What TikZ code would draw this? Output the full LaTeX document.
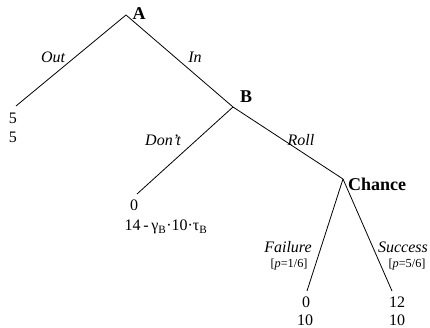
\documentclass[tikz,border=0pt]{standalone}
\usepackage{fontspec}
\setmainfont{Liberation Serif}
\begin{document}
\begin{tikzpicture}[x=1pt,y=-1pt,
  edge/.style={draw=black,line width=0.8pt},
  player/.style={font=\fontsize{18}{20}\selectfont\bfseries,inner sep=0pt},
  act/.style={font=\fontsize{16}{18}\selectfont\itshape,inner sep=0pt},
  prob/.style={font=\fontsize{12.3}{14}\selectfont,inner sep=0pt},
  pay/.style={font=\fontsize{16}{18}\selectfont,inner sep=0pt}]
\useasboundingbox (0,0) rectangle (430,328);
\coordinate (A) at (126,15);
\coordinate (B) at (233,107);
\coordinate (C) at (343,179);
\coordinate (lout) at (16,106);
\coordinate (ldont) at (137,194);
\coordinate (lfail) at (307,291);
\coordinate (lsucc) at (392,291);
\draw[edge] (A) -- (lout);
\draw[edge] (A) -- (B);
\draw[edge] (B) -- (ldont);
\draw[edge] (B) -- (C);
\draw[edge] (C) -- (lfail);
\draw[edge] (C) -- (lsucc);
\node[player] (nA) at (139,14) {A};
\node[player] (nB) at (246,97) {B};
\node[player] (nC) at (377,184) {Chance};
\node[act] (tout) at (53,57) {Out};
\node[act] (tin) at (195,57) {In};
\node[act] (tdont) at (163,140) {Don{\char"27}t};
\node[act] (troll) at (301,140) {Roll};
\node[act] (tfail) at (288,247) {Failure};
\node[prob] (pfail) at (289,265) {[\textit{p}=1/6]};
\node[act] (tsucc) at (403,247) {Success};
\node[prob] (psucc) at (407,265) {[\textit{p}=5/6]};
\node[pay] (o1) at (13,118) {5};
\node[pay] (o2) at (13,137) {5};
\node[pay] (d1) at (134,205) {0};
\node[pay] (d2) at (166,227) {14\,-\,γ\textsubscript{B}·10·τ\textsubscript{B}};
\node[pay] (f1) at (306,302) {0};
\node[pay] (f2) at (305,320) {10};
\node[pay] (s1) at (397,302) {12};
\node[pay] (s2) at (397,320) {10};
\end{tikzpicture}
\end{document}
